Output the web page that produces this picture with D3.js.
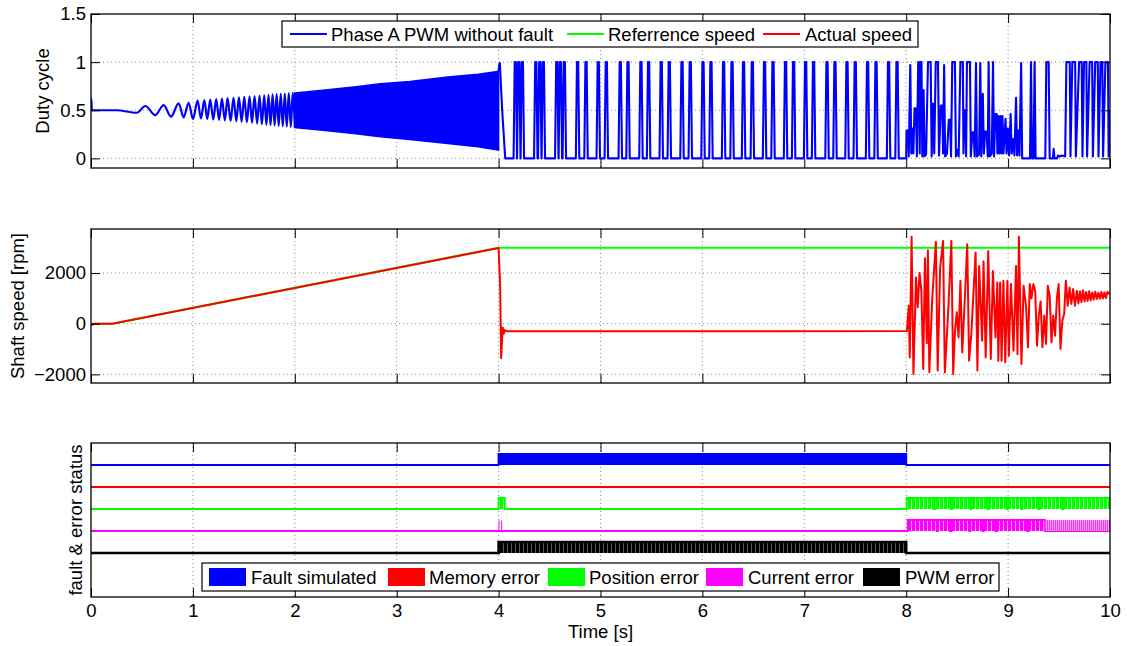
<!DOCTYPE html>
<html>
<head>
<meta charset="utf-8">
<script src="https://d3js.org/d3.v7.min.js"></script>
<style>
  body { margin: 0; background: #fff; }
  svg { display: block; font-family: "Liberation Sans", Arial, sans-serif; }
  .grid line { stroke: #8a8a8a; stroke-dasharray: 1,3; stroke-width: 1; }
  .axis text { font-size: 18.5px; fill: #000; }
  .axis line { stroke: #000; }
  .lbl { font-size: 18.5px; fill: #000; }
</style>
</head>
<body>
<svg id="chart" width="1127" height="646"></svg>
<script>
// ---- data ----
var timeTicks = [0, 1, 2, 3, 4, 5, 6, 7, 8, 9, 10];
var dutyTicks = [0, 0.5, 1, 1.5];
var speedTicks = [-2000, 0, 2000];

// phase A PWM, 0..2 s, local extrema [t, duty]
var pwmStart = [
  [0.000, 0.50], [0.003, 0.62], [0.008, 0.50], [0.25, 0.50], [0.45, 0.474],
  [0.533, 0.544], [0.631, 0.450], [0.713, 0.554], [0.785, 0.433],
  [0.860, 0.572], [0.909, 0.426], [0.958, 0.578], [1.001, 0.410],
  [1.046, 0.600], [1.079, 0.415], [1.112, 0.605], [1.141, 0.410],
  [1.170, 0.610], [1.200, 0.405], [1.229, 0.615], [1.257, 0.400],
  [1.285, 0.620], [1.313, 0.395], [1.340, 0.625], [1.370, 0.390],
  [1.399, 0.630], [1.426, 0.385], [1.452, 0.635], [1.478, 0.380],
  [1.504, 0.640], [1.530, 0.375], [1.556, 0.645], [1.580, 0.370],
  [1.605, 0.648], [1.630, 0.362], [1.654, 0.652], [1.677, 0.354],
  [1.700, 0.656], [1.721, 0.350], [1.742, 0.660], [1.762, 0.346],
  [1.782, 0.664], [1.802, 0.342], [1.822, 0.668], [1.842, 0.338],
  [1.862, 0.671], [1.882, 0.334], [1.902, 0.674], [1.921, 0.330],
  [1.941, 0.677], [1.961, 0.326], [1.980, 0.680], [2.000, 0.322]
];
// 2..4 s the oscillation is too dense to separate: upper / lower envelope
var pwmEnvTop = [[2.0, 0.68], [2.3, 0.71], [2.6, 0.745], [2.84, 0.775], [3.13, 0.80], [3.5, 0.845], [3.8, 0.875], [4.0, 0.905]];
var pwmEnvBottom = [[2.0, 0.32], [2.3, 0.29], [2.6, 0.255], [2.84, 0.225], [3.13, 0.197], [3.5, 0.155], [3.8, 0.12], [4.0, 0.086]];
// just after the fault at 4 s
var pwmFaultEdge = [[4.0, 0.905], [4.005, 0.97], [4.012, 0.99], [4.035, 0.5], [4.065, 0.0], [4.14, 0.0]];
// 4..8 s: full-scale pulses (centre times)
var pwmPulseT = [4.164, 4.198, 4.233, 4.365, 4.404, 4.439, 4.571, 4.606, 4.645,
  4.775, 4.858, 4.978, 5.057, 5.194, 5.270, 5.397, 5.472, 5.596, 5.675,
  5.800, 5.881, 6.006, 6.084, 6.208, 6.291, 6.404, 6.490, 6.610, 6.693,
  6.816, 6.895, 7.013, 7.091, 7.223, 7.301, 7.419, 7.500, 7.621, 7.704,
  7.827, 7.910];
// 8..10 s after recovery [t, duty]
var pwmRecovery = [
  [8.000, 0.0], [8.003, 0.29], [8.018, 0.29], [8.025, 0.02], [8.040, 0.97], [8.050, 0.05],
  [8.060, 0.31], [8.070, 0.05], [8.082, 0.52], [8.095, 0.52], [8.105, 0.02], [8.118, 1.0],
  [8.126, 1.0], [8.133, 0.05], [8.140, 1.0], [8.150, 1.0], [8.158, 0.02], [8.171, 0.71],
  [8.180, 0.02], [8.195, 0.04], [8.214, 1.0], [8.240, 1.0], [8.250, 0.02], [8.262, 0.57],
  [8.275, 0.05], [8.290, 1.0], [8.312, 1.0], [8.322, 0.03], [8.340, 0.55], [8.355, 0.55],
  [8.362, 0.05], [8.372, 0.97], [8.382, 0.02], [8.400, 0.05], [8.418, 0.40], [8.430, 0.40],
  [8.440, 0.02], [8.452, 1.0], [8.478, 1.0], [8.488, 0.02], [8.505, 0.09], [8.515, 0.02],
  [8.532, 1.0], [8.556, 1.0], [8.562, 0.05], [8.570, 0.50], [8.580, 0.50], [8.588, 0.02],
  [8.596, 1.0], [8.626, 1.0], [8.634, 0.02], [8.650, 0.27], [8.662, 0.27], [8.672, 0.02],
  [8.685, 0.99], [8.695, 0.02], [8.715, 0.04], [8.727, 0.99], [8.737, 0.02], [8.752, 0.67],
  [8.762, 0.05], [8.775, 0.28], [8.790, 0.28], [8.800, 0.02], [8.809, 1.0], [8.820, 0.02],
  [8.840, 0.05], [8.852, 1.0], [8.862, 0.02], [8.875, 0.46], [8.888, 0.46], [8.895, 0.05],
  [8.905, 0.44], [8.915, 0.05], [8.925, 0.44], [8.935, 0.05], [8.945, 0.44], [8.955, 0.05],
  [8.975, 0.41], [8.985, 0.05], [8.998, 0.31], [9.010, 0.03], [9.025, 0.46], [9.035, 0.05],
  [9.052, 0.20], [9.062, 0.03], [9.078, 0.63], [9.088, 0.03], [9.100, 0.29], [9.112, 0.03],
  [9.128, 0.99], [9.138, 0.0], [9.215, 0.0], [9.225, 1.0], [9.235, 0.0], [9.250, 0.0],
  [9.260, 1.0], [9.270, 0.0], [9.365, 0.0], [9.375, 1.0], [9.398, 1.0], [9.408, 0.0],
  [9.440, 0.0], [9.447, 0.10], [9.455, 0.0], [9.480, 0.0], [9.490, 0.03], [9.510, 0.02],
  [9.530, 0.03], [9.560, 0.02], [9.572, 1.0], [9.605, 1.0], [9.612, 0.02], [9.630, 1.0],
  [9.658, 1.0], [9.665, 0.02], [9.697, 1.0], [9.722, 1.0], [9.730, 0.02], [9.745, 1.0],
  [9.768, 1.0], [9.775, 0.02], [9.800, 1.0], [9.825, 1.0], [9.832, 0.02], [9.855, 1.0],
  [9.880, 1.0], [9.887, 0.02], [9.907, 1.0], [9.925, 1.0], [9.932, 0.02], [9.955, 1.0],
  [9.980, 1.0], [9.987, 0.02], [10.0, 0.5]
];

// shaft speed [rpm]
var speedRef = [[0, 0], [0.21, 0], [4.0, 3000], [10.0, 3000]];
var speedActual = [
  [0, 0], [0.01, -40], [0.03, 0], [0.21, 0], [4.0, 2990], [4.015, 1500], [4.025, -1350],
  [4.04, -150], [4.05, -400], [4.06, -250], [4.075, -300], [8.0, -290],
  [8.007, -290], [8.025, 710], [8.035, -1330], [8.053, 3430], [8.071, -1985], [8.096, 1830],
  [8.113, 650], [8.131, 2010], [8.149, 1300], [8.167, -1790], [8.184, 2590], [8.202, -770],
  [8.213, 2900], [8.227, -1920], [8.255, 950], [8.291, 3240], [8.309, -1850], [8.333, 2210],
  [8.362, 3270], [8.379, -1920], [8.415, 710], [8.443, 3270], [8.461, -1985], [8.479, -280],
  [8.496, 450], [8.514, -540], [8.532, 1700], [8.550, -1130], [8.574, 880], [8.599, 3140],
  [8.617, -1460], [8.638, -470], [8.652, 580], [8.681, 2815], [8.699, -1850], [8.716, 2275],
  [8.745, -670], [8.759, 2470], [8.780, -1330], [8.805, 2870], [8.830, -1390], [8.851, 2080],
  [8.876, -540], [8.894, 1630], [8.904, -1460], [8.922, 1630], [8.936, -1460], [8.954, 1700],
  [8.972, -1525], [8.993, 1700], [9.007, -1260], [9.028, 1565], [9.053, -1065], [9.078, 2275],
  [9.092, -1200], [9.106, 3430], [9.131, -1590], [9.152, 1500], [9.177, 640], [9.195, -930],
  [9.213, 1565], [9.230, 1000], [9.248, 1565], [9.266, 1300], [9.284, -870], [9.301, 320],
  [9.319, 880], [9.337, -930], [9.355, 320], [9.372, -800], [9.390, 1500], [9.408, 1100],
  [9.426, -740], [9.443, 320], [9.461, -470], [9.479, 1000], [9.496, 1565], [9.514, -1000],
  [9.532, 120], [9.550, 380], [9.567, 1700], [9.585, 710], [9.603, 1430], [9.621, 780],
  [9.638, 1370], [9.656, 710], [9.675, 1300], [9.690, 800], [9.705, 1280], [9.720, 850],
  [9.735, 1320], [9.750, 880], [9.765, 1250], [9.780, 900], [9.795, 1280], [9.810, 920],
  [9.825, 1230], [9.840, 950], [9.855, 1260], [9.870, 980], [9.885, 1220], [9.900, 990],
  [9.915, 1250], [9.930, 1000], [9.945, 1230], [9.960, 1020], [9.975, 1260], [10.0, 1150]
];

// fault & error status: offset level of each trace and its active intervals [from, to]
var statusNames = ["Fault simulated", "Memory error", "Position error", "Current error", "PWM error"];
var statusLevels = [4, 3, 2, 1, 0];
var faultOn = [[4.0, 8.0]];
var memoryOn = [];
var positionOn = [[4.00, 4.06], [8.005, 8.27], [8.28, 8.44], [8.45, 8.63], [8.64, 8.80], [8.81, 8.99],
  [9.00, 9.13], [9.14, 9.30], [9.31, 9.53], [9.54, 10.0]];
var currentOn = [[8.015, 8.30], [8.31, 8.43], [8.445, 8.62], [8.63, 8.75], [8.76, 8.88], [8.89, 9.19], [9.20, 9.36]];
var currentSparse = [[9.36, 10.0]];
var currentBlips = [4.004, 4.03];
var pwmErrOn = [[4.0, 8.0]];
var statusOn = [faultOn, memoryOn, positionOn, currentOn, pwmErrOn];

// ---- drawing ----
var colors = ["#0000ff", "#ff0000", "#00ff00", "#ff00ff", "#000000"];
var svg = d3.select("#chart");
var x = d3.scaleLinear().domain([0, 10]).range([91, 1110]);

var panels = [
  {top: 14, h: 154},
  {top: 229, h: 154},
  {top: 443, h: 154}
];
var yDuty = d3.scaleLinear().domain([-0.1, 1.5]).range([panels[0].top + panels[0].h, panels[0].top]);
var ySpeed = d3.scaleLinear().domain([-2340, 3740]).range([panels[1].top + panels[1].h, panels[1].top]);
var yStat = d3.scaleLinear().domain([-2, 5]).range([panels[2].top + panels[2].h, panels[2].top]);

var defs = svg.append("defs");
function stripes(id, main, light, period) {
  var p = defs.append("pattern").attr("id", id)
    .attr("patternUnits", "userSpaceOnUse").attr("width", period).attr("height", 20);
  p.append("rect").attr("width", period).attr("height", 20).attr("fill", light);
  p.append("rect").attr("width", period - 1).attr("height", 20).attr("fill", main);
}
stripes("st-green", "#00ff00", "#b0ffb0", 4);
stripes("st-mag", "#ff00ff", "#ffb0ff", 4);
stripes("st-black", "#000000", "#5a5a5a", 4);
stripes("st-sparse", "#ff9cff", "#ff33ff", 2);
var fills = ["#0000ff", "#ff0000", "url(#st-green)", "url(#st-mag)", "url(#st-black)"];

panels.forEach(function(p, i) {
  defs.append("clipPath").attr("id", "clip" + i)
    .append("rect").attr("x", x(0)).attr("y", p.top).attr("width", x(10) - x(0)).attr("height", p.h);
});

function drawGrid(p, y, yTicks) {
  var g = svg.append("g").attr("class", "grid");
  g.selectAll(".gx").data(timeTicks.slice(1, -1)).enter().append("line")
    .attr("x1", d => x(d)).attr("x2", d => x(d))
    .attr("y1", p.top).attr("y2", p.top + p.h);
  if (yTicks) {
    g.selectAll(".gy").data(yTicks.filter(d => y(d) > p.top + 1)).enter().append("line")
      .attr("x1", x(0)).attr("x2", x(10))
      .attr("y1", d => y(d)).attr("y2", d => y(d));
  }
}

function drawAxes(p, y, yTicks, yFmt, showX) {
  var g = svg.append("g");
  g.append("g").attr("class", "axis")
    .attr("transform", "translate(0," + (p.top + p.h) + ")")
    .call(d3.axisBottom(x).tickValues(timeTicks).tickSize(-9).tickPadding(7)
      .tickFormat(showX ? d3.format("d") : ""));
  g.append("g").attr("class", "axis")
    .attr("transform", "translate(0," + p.top + ")")
    .call(d3.axisTop(x).tickValues(timeTicks).tickSize(-9).tickFormat(""));
  if (yTicks) {
    g.append("g").attr("class", "axis")
      .attr("transform", "translate(" + x(0) + ",0)")
      .call(d3.axisLeft(y).tickValues(yTicks).tickSize(-9).tickPadding(5).tickFormat(yFmt));
    g.append("g").attr("class", "axis")
      .attr("transform", "translate(" + x(10) + ",0)")
      .call(d3.axisRight(y).tickValues(yTicks).tickSize(-9).tickFormat(""));
  }
  g.selectAll(".domain").remove();
  g.append("rect").attr("x", x(0)).attr("y", p.top)
    .attr("width", x(10) - x(0)).attr("height", p.h)
    .attr("fill", "none").attr("stroke", "#000").attr("stroke-width", 1.3);
}

// ---------- panel 1: duty cycle ----------
var p1 = panels[0];
drawGrid(p1, yDuty, dutyTicks);
var g1 = svg.append("g").attr("clip-path", "url(#clip0)");
var lineDuty = d3.line().x(d => x(d[0])).y(d => yDuty(d[1]));

g1.append("path").datum(pwmStart)
  .attr("d", lineDuty.curve(d3.curveMonotoneX)).attr("fill", "none")
  .attr("stroke", colors[0]).attr("stroke-width", 2.2);
lineDuty.curve(d3.curveLinear);

var envArea = d3.area()
  .x(d => x(d[0]))
  .y0((d, i) => yDuty(pwmEnvBottom[i][1]))
  .y1(d => yDuty(d[1]));
g1.append("path").datum(pwmEnvTop)
  .attr("d", envArea).attr("fill", colors[0]).attr("stroke", colors[0]).attr("stroke-width", 1.5);

// pulses drawn as narrow trapezoids around each centre time
var pulseFoot = 0.017, pulseTop = 0.006;
var pulsePts = [];
pwmPulseT.forEach(function(c) {
  pulsePts.push([c - pulseFoot, 0], [c - pulseTop, 1], [c + pulseTop, 1], [c + pulseFoot, 0]);
});
var tail = pwmFaultEdge.concat(pulsePts, [[7.95, 0]], pwmRecovery);
g1.append("path").datum(tail)
  .attr("d", lineDuty).attr("fill", "none").attr("stroke", colors[0])
  .attr("stroke-width", 2.1).attr("stroke-linejoin", "round");

drawAxes(p1, yDuty, dutyTicks, d3.format("~g"), false);

// legend panel 1
var leg1 = svg.append("g");
leg1.append("rect").attr("x", 282).attr("y", 21).attr("width", 636).attr("height", 26)
  .attr("fill", "#fff").attr("stroke", "#000").attr("stroke-width", 1.2);
var leg1Items = [
  {name: "Phase A PWM without fault", c: colors[0], x0: 290, tx: 331},
  {name: "Referrence speed", c: colors[2], x0: 567, tx: 608},
  {name: "Actual speed", c: colors[1], x0: 763, tx: 805}
];
leg1Items.forEach(function(it) {
  leg1.append("line").attr("x1", it.x0).attr("x2", it.x0 + 37).attr("y1", 34).attr("y2", 34)
    .attr("stroke", it.c).attr("stroke-width", 2);
  leg1.append("text").attr("class", "lbl").attr("x", it.tx).attr("y", 40.5).text(it.name);
});

svg.append("text").attr("class", "lbl")
  .attr("transform", "translate(49," + (p1.top + p1.h / 2) + ")rotate(-90)")
  .attr("text-anchor", "middle").text("Duty cycle");

// ---------- panel 2: shaft speed ----------
var p2 = panels[1];
drawGrid(p2, ySpeed, speedTicks);
var g2 = svg.append("g").attr("clip-path", "url(#clip1)");
var lineSpeed = d3.line().x(d => x(d[0])).y(d => ySpeed(d[1]));
g2.append("path").datum(speedRef)
  .attr("d", lineSpeed).attr("fill", "none").attr("stroke", colors[2]).attr("stroke-width", 2.2);
g2.append("path").datum(speedActual)
  .attr("d", lineSpeed).attr("fill", "none").attr("stroke", colors[1])
  .attr("stroke-width", 2).attr("stroke-linejoin", "round");
drawAxes(p2, ySpeed, speedTicks, d3.format("d"), false);

svg.append("text").attr("class", "lbl")
  .attr("transform", "translate(24," + (p2.top + p2.h / 2) + ")rotate(-90)")
  .attr("text-anchor", "middle").text("Shaft speed [rpm]");

// ---------- panel 3: fault & error status ----------
var p3 = panels[2];
drawGrid(p3, yStat, null);
var g3 = svg.append("g").attr("clip-path", "url(#clip2)");
var lineStat = d3.line().x(d => x(d[0])).y(d => yStat(d[1]));

statusLevels.forEach(function(lev, i) {
  var on = statusOn[i];
  g3.selectAll(".on" + i).data(on).enter().append("rect")
    .attr("x", d => x(d[0])).attr("width", d => x(d[1]) - x(d[0]))
    .attr("y", yStat(lev + 0.5)).attr("height", yStat(lev) - yStat(lev + 0.5))
    .attr("fill", fills[i]);
  var pts = [[0, lev]];
  on.forEach(function(d) { pts.push([d[0], lev], [d[0], lev + 0.5], [d[1], lev + 0.5], [d[1], lev]); });
  pts.push([10, lev]);
  g3.append("path").datum(pts).attr("d", lineStat).attr("fill", "none")
    .attr("stroke", colors[i]).attr("stroke-width", i === 4 ? 2.6 : 2);
});
g3.selectAll(".sparse").data(currentSparse).enter().append("rect")
  .attr("x", d => x(d[0])).attr("width", d => x(d[1]) - x(d[0]))
  .attr("y", yStat(1.5)).attr("height", yStat(1) - yStat(1.5))
  .attr("fill", "url(#st-sparse)");
g3.selectAll(".blip").data(currentBlips).enter().append("line")
  .attr("x1", d => x(d)).attr("x2", d => x(d))
  .attr("y1", yStat(1)).attr("y2", yStat(1.48))
  .attr("stroke", colors[3]).attr("stroke-width", 1);

drawAxes(p3, yStat, null, null, true);

svg.append("text").attr("class", "lbl")
  .attr("transform", "translate(81.5," + (p3.top + p3.h / 2) + ")rotate(-90)")
  .attr("text-anchor", "middle").text("fault & error status");

svg.append("text").attr("class", "lbl")
  .attr("x", x(5)).attr("y", 638).attr("text-anchor", "middle").text("Time [s]");

// legend panel 3
var leg3 = svg.append("g");
leg3.append("rect").attr("x", 202).attr("y", 563).attr("width", 797).attr("height", 28)
  .attr("fill", "#fff").attr("stroke", "#000").attr("stroke-width", 1.2);
var leg3Pos = [[209, 251], [388, 429], [548, 589], [706, 748], [863, 905]];
statusNames.forEach(function(n, i) {
  leg3.append("rect").attr("x", leg3Pos[i][0]).attr("y", 568).attr("width", 37).attr("height", 18)
    .attr("fill", colors[i]);
  leg3.append("text").attr("class", "lbl").attr("x", leg3Pos[i][1]).attr("y", 583.5).text(n);
});
</script>
</body>
</html>
